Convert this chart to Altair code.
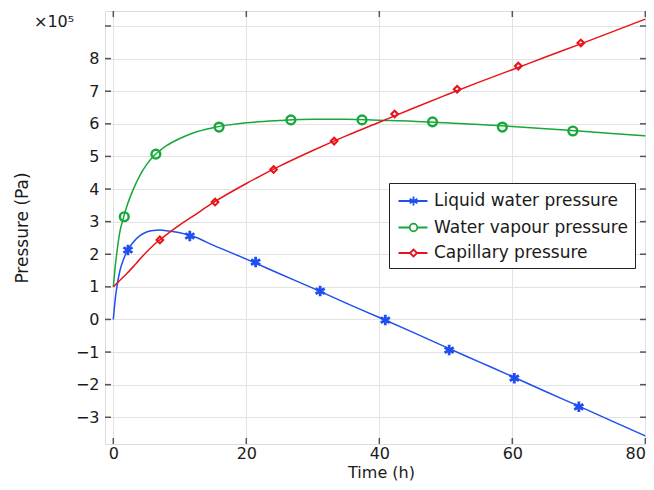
import altair as alt
import pandas as pd

series = ["Liquid water pressure", "Water vapour pressure", "Capillary pressure"]
colors = ["#1f4ff0", "#17a83c", "#e8141a"]

# curve samples (time in h, pressure in 1e5 Pa)
time_h = [0, 0.25, 0.5, 1, 1.5, 2, 3, 4, 5, 6, 7, 8, 10, 12, 15, 20, 25, 30,
          35, 40, 45, 50, 55, 60, 65, 70, 75, 80]
liquid = [0, 0.55, 0.95, 1.5, 1.82, 2.07, 2.37, 2.57, 2.68, 2.73, 2.74, 2.72,
          2.66, 2.55, 2.28, 1.85, 1.4, 0.96, 0.5, 0.06, -0.39, -0.85, -1.30,
          -1.75, -2.21, -2.66, -3.12, -3.57]
vapour = [1.0, 1.55, 2.0, 2.7, 3.1, 3.45, 3.99, 4.42, 4.75, 5.0, 5.18, 5.33,
          5.55, 5.72, 5.88, 6.03, 6.1, 6.14, 6.14, 6.11, 6.08, 6.03, 5.98,
          5.92, 5.85, 5.78, 5.7, 5.63]
capillary = [1.0, 1.05, 1.1, 1.2, 1.3, 1.4, 1.62, 1.85, 2.07, 2.27, 2.44, 2.6,
             2.9, 3.17, 3.58, 4.17, 4.7, 5.18, 5.63, 6.05, 6.47, 6.88, 7.28,
             7.66, 8.05, 8.43, 8.82, 9.21]

# marker positions
liquid_mt = [2.2, 11.5, 21.4, 31.1, 40.9, 50.5, 60.3, 70.0]
liquid_mp = [2.13, 2.56, 1.76, 0.87, -0.02, -0.94, -1.80, -2.68]
vapour_mt = [1.65, 6.4, 15.9, 26.7, 37.4, 48.0, 58.5, 69.1]
vapour_mp = [3.15, 5.07, 5.9, 6.12, 6.12, 6.06, 5.9, 5.78]
capillary_mt = [7.0, 15.3, 24.1, 33.2, 42.3, 51.7, 60.9, 70.3]
capillary_mp = [2.44, 3.6, 4.6, 5.47, 6.3, 7.06, 7.77, 8.48]

x_ticks = [0, 20, 40, 60, 80]
y_ticks = [-3, -2, -1, 0, 1, 2, 3, 4, 5, 6, 7, 8, 9]

curves = pd.concat([
    pd.DataFrame({"t": time_h, "p": liquid, "series": series[0]}),
    pd.DataFrame({"t": time_h, "p": vapour, "series": series[1]}),
    pd.DataFrame({"t": time_h, "p": capillary, "series": series[2]}),
])
markers = pd.concat([
    pd.DataFrame({"t": liquid_mt, "p": liquid_mp, "series": series[0]}),
    pd.DataFrame({"t": vapour_mt, "p": vapour_mp, "series": series[1]}),
    pd.DataFrame({"t": capillary_mt, "p": capillary_mp, "series": series[2]}),
])
xt = pd.DataFrame({"t": x_ticks})
yt = pd.DataFrame({"p": y_ticks})

W, H = 541, 433
FONT = "DejaVu Sans"
FRAME = "#555555"
TXT = "#1a1a1a"

xscale = alt.Scale(domain=[-1.25, 80.1], nice=False, zero=False)
yscale = alt.Scale(domain=[-3.82, 9.46], nice=False, zero=False)
xaxis = alt.Axis(values=x_ticks, title="Time (h)", grid=True, gridColor="#e3e3e3",
                 domain=False, ticks=False, labelFont=FONT, labelFontSize=16,
                 labelColor=TXT, labelPadding=1, labelFlush=3, titleFont=FONT,
                 titleFontSize=16, titleFontWeight="normal", titleColor=TXT,
                 titleX=276, titleY=33.5, titleAlign="center", titleBaseline="alphabetic")
yaxis = alt.Axis(values=y_ticks, title="Pressure (Pa)", grid=True, gridColor="#e3e3e3",
                 domain=False, ticks=False, labelFont=FONT, labelFontSize=16,
                 labelColor=TXT, labelPadding=6,
                 labelExpr="datum.value == 9 ? '' : datum.label",
                 titleFont=FONT, titleFontSize=17, titleFontWeight="normal",
                 titleColor=TXT, titleX=-83, titleBaseline="middle",
                 titleAlign="center", labelFlush=False)


def X():
    return alt.X("t:Q", scale=xscale, axis=xaxis)


def Y():
    return alt.Y("p:Q", scale=yscale, axis=yaxis)


star = "M0,-1L0,1M-0.87,-0.5L0.87,0.5M-0.87,0.5L0.87,-0.5"
# legend symbols: a short line with the series marker (units of 10 px)
star_leg = ("M-0.85,0L2.05,0M0.65,-0.45L0.65,0.45M0.26,-0.225L1.04,0.225"
            "M0.26,0.225L1.04,-0.225")
circle_leg = ("M-0.85,0L0.27,0M1.03,0L2.05,0M0.27,0A0.38,0.38,0,1,0,1.03,0"
              "A0.38,0.38,0,1,0,0.27,0")
diamond_leg = "M-0.85,0L0.3,0M1.0,0L2.05,0M0.65,-0.35L1.0,0L0.65,0.35L0.3,0Z"

legend = alt.Legend(orient="none", legendX=284, legendY=172,
                    labelFont=FONT, labelFontSize=17, labelColor=TXT,
                    labelLimit=0,
                    symbolSize=400, symbolStrokeWidth=1.8, symbolOpacity=1,
                    symbolFillColor="transparent",
                    strokeColor="#222222", fillColor="white", padding=7,
                    rowPadding=6.5, labelOffset=16, cornerRadius=0)

color_scale = alt.Scale(domain=series, range=colors)

lines = alt.Chart(curves).mark_line(strokeWidth=1.5, interpolate="monotone").encode(
    x=X(), y=Y(),
    color=alt.Color("series:N", scale=color_scale, sort=series, legend=None),
    detail="series:N")

points = alt.Chart(markers).mark_point(filled=False, opacity=1).encode(
    x=X(), y=Y(),
    color=alt.Color("series:N", scale=color_scale, sort=series, legend=None),
    shape=alt.Shape("series:N", scale=alt.Scale(domain=series, range=[star, "circle", "diamond"]),
                    legend=None),
    size=alt.Size("series:N", scale=alt.Scale(domain=series, range=[110, 44, 45]),
                  legend=None),
    strokeWidth=alt.StrokeWidth("series:N", scale=alt.Scale(domain=series, range=[2.8, 2.1, 2.0]),
                                legend=None),
)

legend_layer = alt.Chart(markers).mark_point(filled=False, opacity=0).encode(
    x=X(), y=Y(),
    color=alt.Color("series:N", scale=color_scale, sort=series, title=None, legend=legend),
    shape=alt.Shape("series:N", scale=alt.Scale(domain=series,
                                                range=[star_leg, circle_leg, diamond_leg]),
                    sort=series, title=None, legend=legend),
)

tick_style = dict(color=FRAME, strokeWidth=1.5)
left_ticks = alt.Chart(yt).mark_rule(**tick_style).encode(
    y=Y(), x=alt.value(0), x2=alt.value(6))
right_ticks = alt.Chart(yt).mark_rule(**tick_style).encode(
    y=Y(), x=alt.value(W - 6), x2=alt.value(W))
bottom_ticks = alt.Chart(xt).mark_rule(**tick_style).encode(
    x=X(), y=alt.value(H - 6), y2=alt.value(H))
top_ticks = alt.Chart(xt).mark_rule(**tick_style).encode(
    x=X(), y=alt.value(0), y2=alt.value(6))

exponent = alt.Chart(pd.DataFrame({"label": ["×10⁵"]})).mark_text(
    font=FONT, fontSize=16, align="left", baseline="alphabetic", color=TXT
).encode(text="label:N", x=alt.value(-71), y=alt.value(16))

chart = alt.layer(
    left_ticks, right_ticks, bottom_ticks, top_ticks, lines, points, legend_layer, exponent
).resolve_scale(
    color="independent", shape="independent", size="independent", strokeWidth="independent"
).properties(
    width=W, height=H,
    autosize=alt.AutoSizeParams(type="none"),
    padding={"left": 97, "top": 3, "right": 0, "bottom": 38},
).configure_view(stroke=FRAME, strokeWidth=2).configure(background="white")

chart.save("out.html", embed_options={"renderer": "svg", "actions": False})
